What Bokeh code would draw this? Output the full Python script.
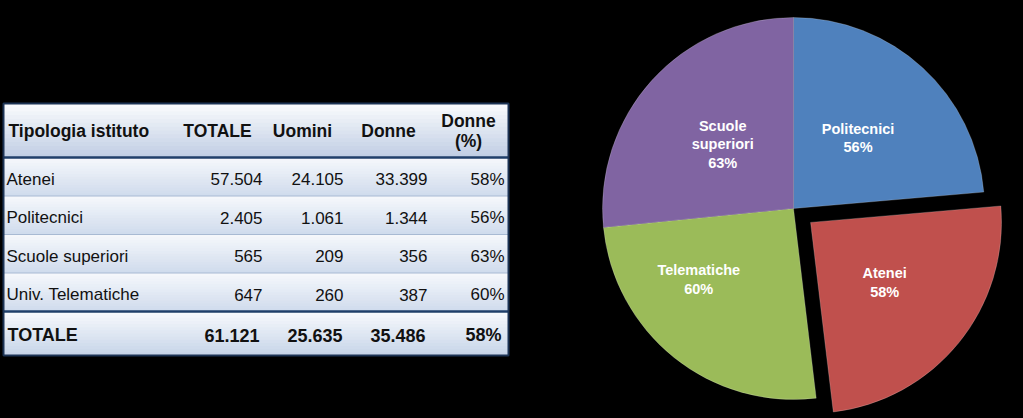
import numpy as np
from bokeh.plotting import figure
from bokeh.models import Range1d, ColumnDataSource
from bokeh.core.properties import value
from bokeh.embed import file_html
from bokeh.resources import INLINE

# ---------------- data ----------------
header = ["Tipologia istituto", "TOTALE", "Uomini", "Donne", "Donne\n(%)"]
tipologie = ["Atenei", "Politecnici", "Scuole superiori", "Univ. Telematiche"]
totale = ["57.504", "2.405", "565", "647"]
uomini = ["24.105", "1.061", "209", "260"]
donne = ["33.399", "1.344", "356", "387"]
donne_pct = ["58%", "56%", "63%", "60%"]
riga_totale = ["TOTALE", "61.121", "25.635", "35.486", "58%"]

pie_labels = ["Politecnici", "Atenei", "Telematiche", "Scuole\nsuperiori"]
pie_values = [56, 58, 60, 63]
pie_colors = ["#4F81BD", "#C0504D", "#9BBB59", "#8064A2"]

# ---------------- style / layout ----------------
FONT = value("Liberation Sans")
W, H = 1023, 418
def Y(py):  # page pixel row -> data y
    return H - py

p = figure(width=W, height=H, x_range=Range1d(0, W), y_range=Range1d(0, H),
           output_backend="svg", toolbar_location=None, min_border=0,
           x_axis_type=None, y_axis_type=None,
           background_fill_color="black", border_fill_color="black",
           outline_line_color=None)

# table geometry
T_L, T_R = 3, 508
T_TOP, H_BOT = 103, 157
ROW_H = 38.5
n_rows = len(tipologie)
TOT_TOP = H_BOT + n_rows * ROW_H
T_BOT = 355

def hex2rgb(h):
    h = h.lstrip("#")
    return np.array([int(h[i:i + 2], 16) for i in (0, 2, 4)], dtype=float)

def rgb2hex(c):
    return "#%02x%02x%02x" % tuple(int(round(v)) for v in c)

bands = [(T_TOP, H_BOT, "#fbfcfe", "#bfcde3")]
for i in range(n_rows):
    bands.append((H_BOT + i * ROW_H, H_BOT + (i + 1) * ROW_H, "#f6f8fc", "#cfdbec"))
bands.append((TOT_TOP, T_BOT, "#f8fafd", "#c6d4e8"))

gl, gr, gt, gb, gc = [], [], [], [], []
N = 14
for (y0, y1, ct, cb) in bands:
    a, b = hex2rgb(ct), hex2rgb(cb)
    for k in range(N):
        s0 = y0 + (y1 - y0) * k / N
        s1 = y0 + (y1 - y0) * (k + 1) / N
        gl.append(T_L); gr.append(T_R)
        gt.append(Y(s0)); gb.append(Y(s1) - (1.0 if k < N - 1 else 0.0))
        gc.append(rgb2hex(a + (b - a) * (k + 0.5) / N))
p.quad(left=gl, right=gr, top=gt, bottom=gb, fill_color=gc, line_color=None)

# thin separators between data rows
sep_y = [Y(H_BOT + i * ROW_H) for i in range(1, n_rows)]
p.segment(x0=[T_L] * len(sep_y), x1=[T_R] * len(sep_y), y0=sep_y, y1=sep_y,
          line_color="#a8bad3", line_width=1.2)
# thick dark rules
thick = [Y(H_BOT), Y(TOT_TOP)]
p.segment(x0=[T_L] * 2, x1=[T_R] * 2, y0=thick, y1=thick, line_color="#1f3f6a", line_width=2.5)
# outer border
p.quad(left=[T_L], right=[T_R], top=[Y(T_TOP)], bottom=[Y(T_BOT)], fill_color=None,
       line_color="#1c3354", line_width=2)

# header texts
hdr_x = [8, 217, 302, 388, 468]
hdr_align = ["left", "center", "center", "center", "center"]
p.text(x=hdr_x, y=[Y((T_TOP + H_BOT) / 2 + 0.5)] * len(header), text=header,
       text_font=FONT, text_font_size="17.5px", text_font_style="bold",
       text_align=hdr_align, text_baseline="middle", text_color="#111111",
       text_line_height=1.0)

# body texts
col_right = [262, 343, 427, 504]
cols = [totale, uomini, donne, donne_pct]
row_y = [Y(H_BOT + (i + 0.5) * ROW_H + 2.5) for i in range(n_rows)]
p.text(x=[6] * n_rows, y=row_y, text=tipologie, text_font=FONT, text_font_size="17px",
       text_align="left", text_baseline="middle", text_color="#111111")
for cx, col in zip(col_right, cols):
    p.text(x=[cx] * n_rows, y=row_y, text=col, text_font=FONT, text_font_size="17px",
           text_align="right", text_baseline="middle", text_color="#111111")

# totals row
tot_x = [7, 259, 342, 425, 501]
tot_align = ["left", "right", "right", "right", "right"]
p.text(x=tot_x, y=[Y((TOT_TOP + T_BOT) / 2 + 1.5)] * len(riga_totale), text=riga_totale,
       text_font=FONT, text_font_size="18px", text_font_style="bold",
       text_align=tot_align, text_baseline="middle", text_color="#111111")

# ---------------- pie ----------------
CX, CY, R = 793, Y(208), 191
explode = [0, 22, 0, 0]
label_r = [0.5, 0.5, 0.62, 0.5]
label_shift = [0, 0, -14.4, 0]   # degrees

vals = np.array(pie_values, dtype=float)
frac = vals / vals.sum()
cum_after = np.cumsum(frac)
cum_before = cum_after - frac
a_top = np.pi / 2 - 2 * np.pi * cum_before
a_bot = np.pi / 2 - 2 * np.pi * cum_after
mid = (a_top + a_bot) / 2
ex = np.array(explode, dtype=float)
wx = CX + ex * np.cos(mid)
wy = CY + ex * np.sin(mid)

src = ColumnDataSource(dict(x=wx, y=wy, start=a_bot, end=a_top, color=pie_colors))
p.wedge(x="x", y="y", radius=R, start_angle="start", end_angle="end",
        fill_color="color", line_color="white", line_alpha=0.25, line_width=0.8,
        source=src)

lang = mid + np.radians(label_shift)
lr = np.array(label_r) * R
lx = wx + lr * np.cos(lang)
ly = wy + lr * np.sin(lang)
ltxt = [f"{l}\n{v}%" for l, v in zip(pie_labels, pie_values)]
p.text(x=lx, y=ly, text=ltxt, text_font=FONT, text_font_size="14.5px",
       text_font_style="bold", text_color="white", text_align="center",
       text_baseline="middle", text_line_height=1.15)

html = file_html(p, INLINE).replace(
    "<head>", "<head><style>html,body{background:#000;margin:0;padding:0;}</style>", 1)
open("out.html", "w").write(html)
